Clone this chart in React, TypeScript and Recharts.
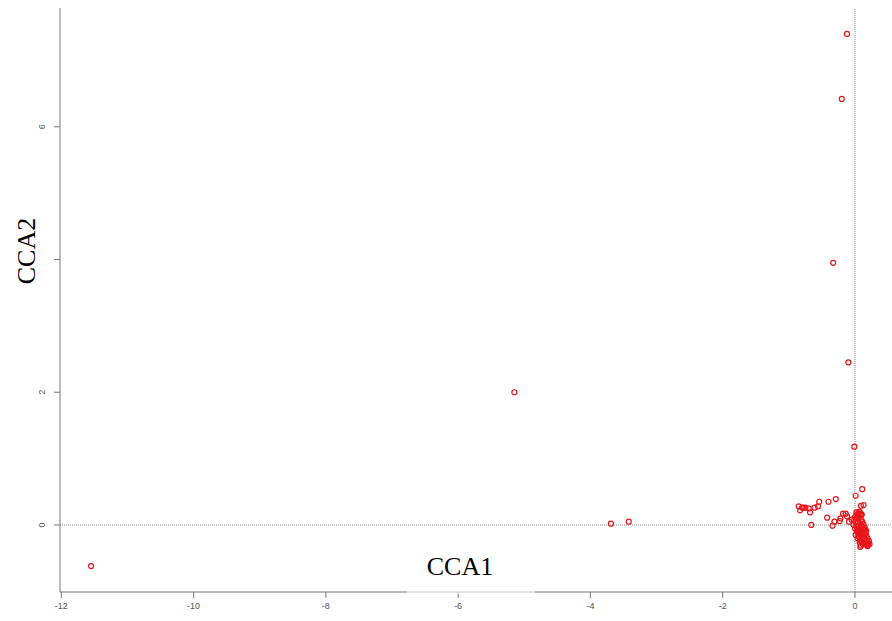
import { ScatterChart, Scatter, XAxis, YAxis, ReferenceLine } from 'recharts';

// CCA site scores
const cca1 = [
  -11.55, -5.15, -3.69, -3.42, -0.12, -0.2, -0.33, -0.1, -0.01,
  0.11, 0.01, 0.13, 0.09, -0.29, -0.4, -0.54, -0.56, -0.61, -0.68, -0.7, -0.75, -0.78, -0.8, -0.85, -0.83,
  -0.66, -0.42, -0.34, -0.31, -0.23, -0.22, -0.18, -0.14, -0.12, -0.09, -0.05, 0.02, 0.05, 0.08, 0.1,
  0.0, 0.03, 0.06, 0.09, 0.01, 0.04, 0.08, 0.11, -0.02, 0.02, 0.06, 0.1, 0.13, 0.0, 0.04, 0.08, 0.12,
  0.03, 0.07, 0.11, 0.14, 0.05, 0.09, 0.13, 0.16, 0.06, 0.1, 0.14, 0.17, 0.08, 0.12, 0.16, 0.19,
  0.1, 0.14, 0.18, 0.21, 0.12, 0.16, 0.2, 0.22, 0.09, 0.18, 0.08, 0.02, 0.05, 0.1, 0.07, -0.01,
  0.15, 0.17, 0.01, 0.04, 0.07, 0.2, 0.05, 0.11, 0.15, 0.13, 0.19, 0.03, 0.09,
];
const cca2 = [
  -0.62, 2.0, 0.02, 0.05, 7.4, 6.42, 3.95, 2.45, 1.18,
  0.54, 0.44, 0.3, 0.29, 0.39, 0.35, 0.35, 0.28, 0.26, 0.19, 0.25, 0.26, 0.26, 0.26, 0.28, 0.22,
  0.0, 0.11, -0.01, 0.05, 0.06, 0.1, 0.17, 0.17, 0.13, 0.05, 0.08, 0.19, 0.15, 0.17, 0.15,
  0.12, 0.1, 0.12, 0.08, 0.05, 0.04, 0.03, 0.05, 0.0, -0.01, -0.02, -0.01, 0.01, -0.05, -0.06, -0.05, -0.06,
  -0.1, -0.09, -0.1, -0.08, -0.14, -0.13, -0.14, -0.12, -0.18, -0.17, -0.18, -0.16, -0.22, -0.21, -0.22, -0.2,
  -0.26, -0.25, -0.26, -0.24, -0.29, -0.28, -0.29, -0.29, -0.31, -0.3, -0.33, 0.15, 0.18, 0.16, 0.2, 0.08,
  -0.04, -0.09, -0.15, -0.2, -0.26, -0.27, -0.11, -0.19, -0.07, -0.23, -0.32, -0.08, -0.24,
];
const xTicks = [-12, -10, -8, -6, -4, -2, 0];
const yTicks = [0, 2, 4, 6];
const yLabelled = [0, 2, 6];

const data = cca1.map((x, i) => ({ x, y: cca2[i] }));

const XTick = ({ x, y, payload }: any) => (
  <text x={x} y={y + 9} textAnchor="middle" fontSize={9} fill="#555" fontFamily="Liberation Sans, Arial, sans-serif">
    {payload.value}
  </text>
);

const YTick = ({ x, y, payload }: any) =>
  yLabelled.includes(payload.value) ? (
    <text
      transform={`translate(${x - 7},${y}) rotate(-90)`}
      textAnchor="middle"
      fontSize={9}
      fill="#555"
      fontFamily="Liberation Sans, Arial, sans-serif"
    >
      {payload.value}
    </text>
  ) : (
    <g />
  );

const Ring = ({ cx, cy }: any) => <circle cx={cx} cy={cy} r={2.5} fill="none" stroke="#e8161b" strokeWidth={1.2} />;

const XTitle = () => (
  <g>
    <rect x={407} y={548} width={128} height={46} fill="#fff" fillOpacity={0.6} />
    <text x={460} y={575} textAnchor="middle" fontSize={26} fill="#000" fontFamily="Liberation Serif, Times New Roman, serif">
      CCA1
    </text>
  </g>
);

const YTitle = () => (
  <text
    transform="translate(35,251) rotate(-90)"
    textAnchor="middle"
    fontSize={26}
    fill="#000"
    fontFamily="Liberation Serif, Times New Roman, serif"
  >
    CCA2
  </text>
);

export default function App() {
  return (
    <div style={{ width: 892, height: 621, background: '#fff' }}>
      <style>{'body{margin:0}'}</style>
      <ScatterChart width={892} height={621} margin={{ top: 8, right: 0, bottom: 0, left: 0 }}>
        <XAxis
          type="number"
          dataKey="x"
          domain={[-12.02, 0.56]}
          ticks={xTicks}
          height={29}
          allowDataOverflow
          tick={<XTick />}
          tickSize={6}
          tickLine={{ stroke: '#777' }}
          axisLine={{ stroke: '#777' }}
          label={<XTitle />}
        />
        <XAxis
          xAxisId="top"
          orientation="top"
          type="number"
          domain={[-12.02, 0.56]}
          height={0}
          tick={false}
          tickLine={false}
          axisLine={{ stroke: '#999' }}
        />
        <YAxis
          type="number"
          dataKey="y"
          domain={[-1.01, 7.79]}
          ticks={yTicks}
          width={60}
          allowDataOverflow
          tick={<YTick />}
          tickSize={6}
          tickLine={{ stroke: '#777' }}
          axisLine={{ stroke: '#777' }}
          label={<YTitle />}
        />
        <ReferenceLine y={0} stroke="#888" strokeDasharray="1 1" />
        <ReferenceLine x={0} stroke="#888" strokeDasharray="1 1" />
        <Scatter data={data} shape={<Ring />} isAnimationActive={false} />
      </ScatterChart>
    </div>
  );
}
